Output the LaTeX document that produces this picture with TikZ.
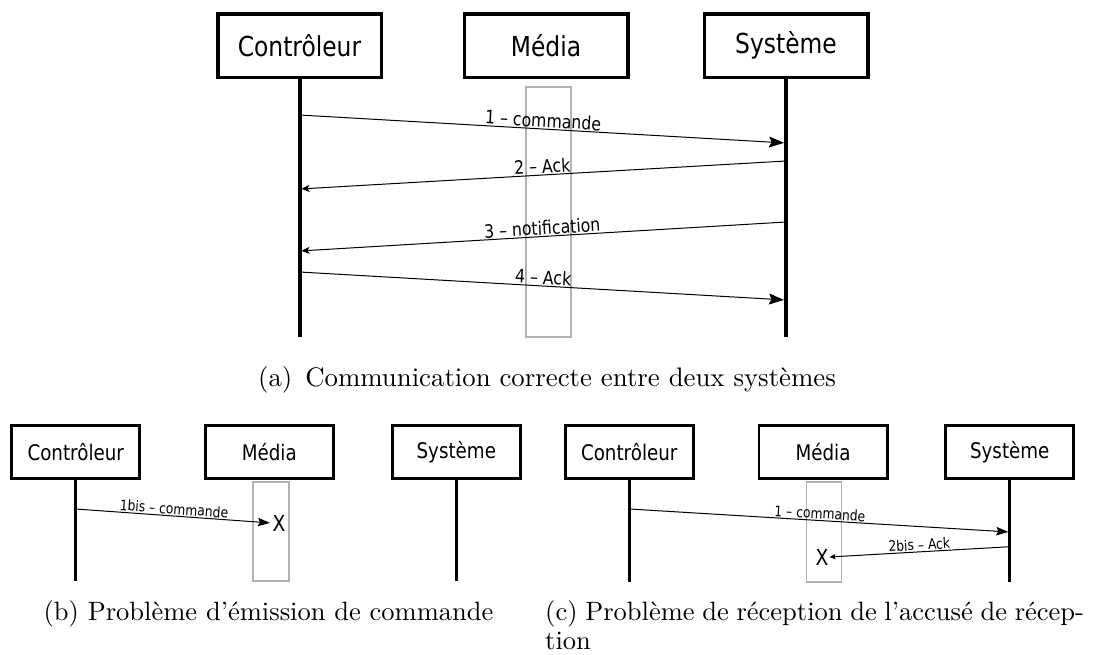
\documentclass[tikz,border=0pt]{standalone}
\usepackage{fontspec}
\usepackage{graphicx}
\usetikzlibrary{arrows.meta}
\newfontfamily\diafont{DejaVu Sans}[FakeStretch=0.85]

\begin{document}
\begin{tikzpicture}[x=1pt,y=-1pt,
    actor/.style={draw, line width=3.5pt, minimum width=163.5pt, minimum height=63.5pt, inner sep=0pt, font=\diafont\fontsize{27.5}{32}\selectfont},
    smallactor/.style={draw, line width=2.8pt, minimum width=128.2pt, minimum height=53.2pt, inner sep=0pt, font=\diafont\fontsize{21.5}{25}\selectfont},
    lifeline/.style={line width=4pt},
    smalllifeline/.style={line width=3pt},
    mediabar/.style={draw=black!30, line width=1.3pt, inner sep=0pt},
    msg/.style={line width=1pt},
    bigtip/.style={-{Stealth[length=15pt,width=11pt,inset=2.5pt]}, shorten >=2pt},
    smalltip/.style={-{Stealth[length=8pt,width=7pt,inset=2pt]}, shorten >=2pt},
    midtip/.style={-{Stealth[length=12pt,width=8.5pt,inset=2pt]}, shorten >=1.5pt},
    tinytip/.style={-{Stealth[length=6pt,width=5.5pt,inset=1.5pt]}},
    lblA/.style={above, sloped, inner sep=1pt, font=\diafont\fontsize{18.5}{22}\selectfont},
    lblB/.style={above, sloped, inner sep=1pt, font=\diafont\fontsize{14.5}{17}\selectfont},
    lost/.style={inner sep=1pt, font=\diafont\fontsize{22}{25}\selectfont},
    caption/.style={inner sep=0pt}
  ]
    \useasboundingbox (0,0) rectangle (1096,654) ;

    \node[actor] at (299.5,45.5) (CtrlA) {Contrôleur} ;
    \node[actor] at (546,45.5) (MedA) {Média} ;
    \node[actor] at (786,45.5) (SysA) {Système} ;
    \node[mediabar, minimum width=45pt, minimum height=250pt] at (548.5,212) (BarA) {} ;
    \draw[lifeline] (CtrlA.south) -- (CtrlA.south |- 0,337) ;
    \draw[lifeline] (SysA.south) -- (SysA.south |- 0,337) ;
    \draw[msg, bigtip] (CtrlA.south |- 0,115) -- node[lblA] {1 – commande} (SysA.south |- 0,143) ;
    \draw[msg, smalltip] (SysA.south |- 0,161) -- node[lblA] {2 – Ack} (CtrlA.south |- 0,189) ;
    \draw[msg, smalltip] (SysA.south |- 0,222) -- node[lblA] {3 – notification} (CtrlA.south |- 0,251) ;
    \draw[msg, bigtip] (CtrlA.south |- 0,272) -- node[lblA] {4 – Ack} (SysA.south |- 0,300) ;
    \node[caption, anchor=base] at (547,386) (CapA) {\scalebox{2.68}{(a)\hspace{1.5pt} Communication correcte entre deux systèmes}} ;

    \node[smallactor] at (75.75,452) (CtrlB) {Contrôleur} ;
    \node[smallactor] at (269.3,452) (MedB) {Média} ;
    \node[smallactor] at (456.3,452) (SysB) {Système} ;
    \node[mediabar, minimum width=36pt, minimum height=99pt] at (271,531.5) (BarB) {} ;
    \draw[smalllifeline] (CtrlB.south) -- (CtrlB.south |- 0,581) ;
    \draw[smalllifeline] (SysB.south) -- (SysB.south |- 0,581) ;
    \node[lost] at (279,523) (LostB) {X} ;
    \draw[msg, midtip] (CtrlB.south |- 0,509) -- node[lblB] {1bis – commande} (LostB.west) ;
    \node[caption, anchor=base] at (268.5,620) (CapB) {\scalebox{2.65}{(b) Problème d’émission de commande}} ;

    \node[smallactor] at (629.25,452) (CtrlC) {Contrôleur} ;
    \node[smallactor] at (823,452) (MedC) {Média} ;
    \node[smallactor] at (1009.75,452) (SysC) {Système} ;
    \node[mediabar, minimum width=35pt, minimum height=100pt] at (824.2,532) (BarC) {} ;
    \draw[smalllifeline] (CtrlC.south) -- (CtrlC.south |- 0,581.5) ;
    \draw[smalllifeline] (SysC.south) -- (SysC.south |- 0,581.5) ;
    \node[lost] at (822,557) (LostC) {X} ;
    \draw[msg, midtip] (CtrlC.south |- 0,509) -- node[lblB] {1 – commande} (SysC.south |- 0,532) ;
    \draw[msg, tinytip] (SysC.south |- 0,546.7) -- node[lblB] {2bis – Ack} (LostC.east) ;
    \node[caption, anchor=base west] at (545,620) (CapC) {\scalebox{2.65}{\spaceskip=2.9pt\begin{tabular}[t]{@{}l@{}}(c) Problème de réception de l’accusé de récep-\\[-1pt]tion\end{tabular}}} ;
  \end{tikzpicture}
\end{document}
